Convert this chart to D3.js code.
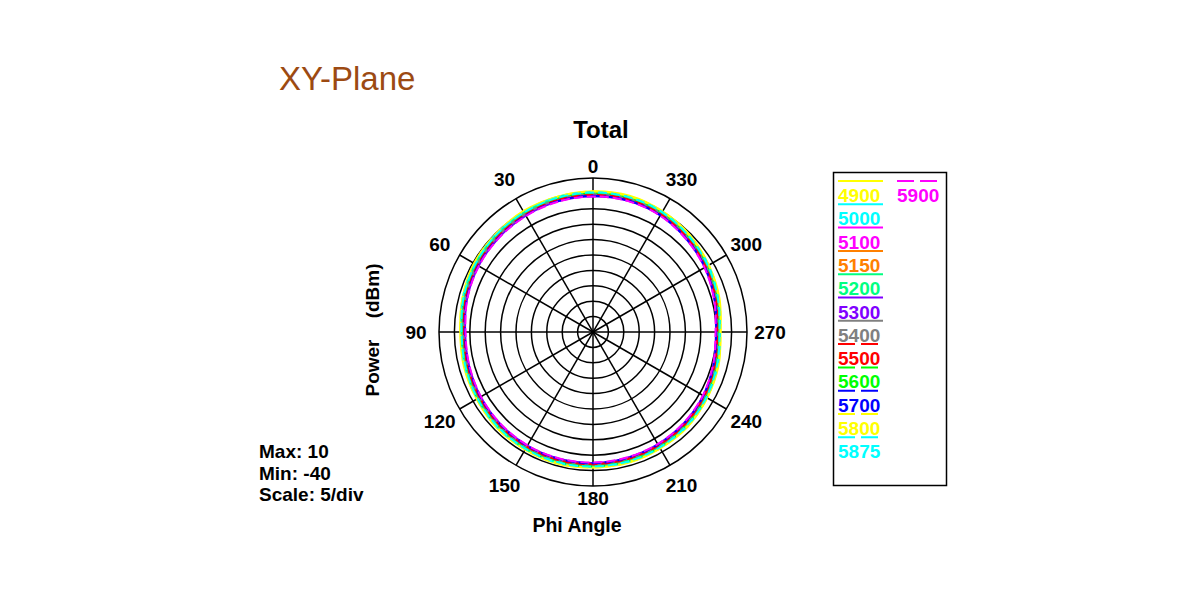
<!DOCTYPE html>
<html><head><meta charset="utf-8">
<script src="https://cdn.jsdelivr.net/npm/d3@7"></script>
<style>body{margin:0;background:#fff;} svg{display:block;} text{font-family:"Liberation Sans",Arial,sans-serif;}</style>
</head><body>
<svg id="c" width="1200" height="600"></svg>
<script>
// ---- data ----
const angles = [0,15,30,45,60,75,90,105,120,135,150,165,180,195,210,225,240,255,270,285,300,315,330,345];
const seriesNames = ["4900","5000","5100","5150","5200","5300","5400","5500","5600","5700","5800","5875","5900"];
const seriesColors = ["#ffff00","#00ffff","#ff00ff","#ff8000","#00ff80","#8000ff","#808080","#ff0000","#00ff00","#0000ff","#ffff00","#00ffff","#ff00ff"];
const seriesDashed = [false,false,false,false,false,false,false,true,true,true,true,true,true];
const s4900 = [5.7,5.4,5.3,4.8,4.6,3.8,3.1,3.4,3.6,4.1,4.1,4.3,4.0,4.0,3.6,3.5,2.8,2.2,1.4,2.5,3.4,4.5,5.2,5.8];
const s5000 = [5.4,5.3,4.8,4.7,4.1,3.7,2.7,3.1,3.3,3.8,3.8,4.0,3.7,3.7,3.3,3.2,2.5,1.9,1.2,2.0,3.3,4.0,5.0,5.3];
const s5100 = [4.3,4.0,3.9,3.4,3.2,2.4,1.8,1.8,2.4,2.5,2.9,2.7,2.8,2.4,2.4,1.9,1.6,0.6,0.2,0.9,2.2,2.9,4.0,4.2];
const s5150 = [4.9,4.8,4.3,4.2,3.6,3.2,2.2,2.6,2.8,3.3,3.3,3.5,3.2,3.2,2.8,2.7,2.0,1.4,0.6,1.7,2.6,3.7,4.4,5.0];
const s5200 = [5.2,4.8,4.7,4.2,4.0,3.2,2.6,2.6,3.2,3.3,3.7,3.5,3.6,3.2,3.2,2.7,2.4,1.4,1.0,1.7,3.0,3.7,4.8,5.0];
const s5300 = [4.0,3.9,3.6,3.3,2.9,2.3,1.5,1.7,2.1,2.4,2.6,2.6,2.5,2.3,2.1,1.8,1.3,0.5,-0.1,0.8,1.9,2.8,3.7,4.1];
const s5400 = [4.7,4.5,4.2,3.9,3.5,2.9,2.1,2.3,2.7,3.0,3.2,3.2,3.1,2.9,2.7,2.4,1.9,1.1,0.5,1.4,2.5,3.4,4.3,4.7];
const s5500 = [4.5,4.4,4.0,3.8,3.3,2.8,1.9,2.2,2.5,2.9,3.0,3.1,2.9,2.8,2.5,2.3,1.7,1.0,0.3,1.3,2.3,3.3,4.1,4.6];
const s5600 = [5.2,5.0,4.7,4.4,4.0,3.4,2.6,2.8,3.2,3.5,3.7,3.7,3.6,3.4,3.2,2.9,2.4,1.6,1.0,1.9,3.0,3.9,4.8,5.2];
const s5700 = [4.2,4.0,3.7,3.4,3.0,2.4,1.6,1.8,2.2,2.5,2.7,2.7,2.6,2.4,2.2,1.9,1.4,0.6,0.0,0.9,2.0,2.9,3.8,4.2];
const s5800 = [5.6,5.4,5.1,4.8,4.4,3.8,3.0,3.2,3.6,3.9,4.1,4.1,4.0,3.8,3.6,3.3,2.8,2.0,1.4,2.3,3.4,4.3,5.2,5.6];
const s5875 = [5.3,5.1,4.8,4.5,4.1,3.5,2.7,2.9,3.3,3.6,3.8,3.8,3.7,3.5,3.3,3.0,2.5,1.7,1.1,2.0,3.1,4.0,4.9,5.3];
const s5900 = [4.0,3.8,3.5,3.2,2.8,2.2,1.4,1.6,2.0,2.3,2.5,2.5,2.4,2.2,2.0,1.7,1.2,0.4,-0.2,0.7,1.8,2.7,3.6,4.0];
const seriesValues = [s4900,s5000,s5100,s5150,s5200,s5300,s5400,s5500,s5600,s5700,s5800,s5875,s5900];
const ringValues = [-35,-30,-25,-20,-15,-10,-5,0,5,10];
const spokeAngles = [0,30,60,90,120,150,180,210,240,270,300,330];
const statLines = ["Max: 10","Min: -40","Scale: 5/div"];

// ---- layout ----
const svg = d3.select("#c");
const cx = 593, cy = 332, R = 154;
const r = d3.scaleLinear().domain([-40,10]).range([0,R]);
const toXY = (deg, rad) => { const a = deg*Math.PI/180; return [cx - rad*Math.sin(a), cy - rad*Math.cos(a)]; };

svg.append("text").attr("x",279).attr("y",90).attr("font-size",33).attr("fill","#9c4a12").text("XY-Plane");
svg.append("text").attr("x",601).attr("y",138).attr("text-anchor","middle").attr("font-size",24).attr("font-weight","bold").text("Total");

const g = svg.append("g");
g.selectAll("circle.ring").data(ringValues).join("circle")
  .attr("cx",cx).attr("cy",cy).attr("r",d=>r(d)).attr("fill","none").attr("stroke","#000").attr("stroke-width",1.5);
g.selectAll("line.spoke").data(spokeAngles).join("line")
  .attr("x1",cx).attr("y1",cy)
  .attr("x2",d=>toXY(d,R)[0]).attr("y2",d=>toXY(d,R)[1])
  .attr("stroke","#000").attr("stroke-width",1.5);

const labR = d => (d % 180 === 0) ? 166 : 177;
g.selectAll("text.alab").data(spokeAngles).join("text")
  .attr("x",d=>toXY(d,labR(d))[0])
  .attr("y",d=>toXY(d,labR(d))[1]+7)
  .attr("text-anchor","middle").attr("font-size",19).attr("font-weight","bold").text(d=>d);

const line = d3.lineRadial().angle(d=>-d[0]*Math.PI/180).radius(d=>r(d[1])).curve(d3.curveCatmullRomClosed);
const pg = svg.append("g").attr("transform",`translate(${cx},${cy})`);
seriesValues.forEach((vals,i)=>{
  pg.append("path").datum(angles.map((a,j)=>[a,vals[j]]))
    .attr("d",line).attr("fill","none").attr("stroke",seriesColors[i]).attr("stroke-width",2)
    .attr("stroke-dasharray",seriesDashed[i]?"9,4":null);
});

svg.append("text").attr("transform","translate(379,330) rotate(-90)").attr("text-anchor","middle")
  .attr("font-size",19).attr("font-weight","bold").style("white-space","pre").text("Power    (dBm)");
svg.append("text").attr("x",577).attr("y",532).attr("text-anchor","middle")
  .attr("font-size",19.5).attr("font-weight","bold").text("Phi Angle");

svg.selectAll("text.stat").data(statLines).join("text")
  .attr("x",259).attr("y",(d,i)=>458+i*21.5).attr("font-size",19).attr("font-weight","bold").text(d=>d);

// legend
svg.append("rect").attr("x",833.5).attr("y",172.5).attr("width",113).attr("height",313).attr("fill","none").attr("stroke","#000").attr("stroke-width",1.5);
const lg = svg.append("g");
seriesNames.forEach((n,i)=>{
  const col = i<12?0:1, row = i<12?i:0;
  const x0 = col===0?838:897, y0 = 181 + row*23.3;
  lg.append("line").attr("x1",x0).attr("x2",x0+45).attr("y1",y0).attr("y2",y0)
    .attr("stroke",seriesColors[i]).attr("stroke-width",2).attr("stroke-dasharray",seriesDashed[i]?"17,6":null);
  lg.append("text").attr("x",x0).attr("y",y0+21).attr("font-size",19).attr("font-weight","bold")
    .attr("fill",seriesColors[i]).text(n);
});
</script>
</body></html>
